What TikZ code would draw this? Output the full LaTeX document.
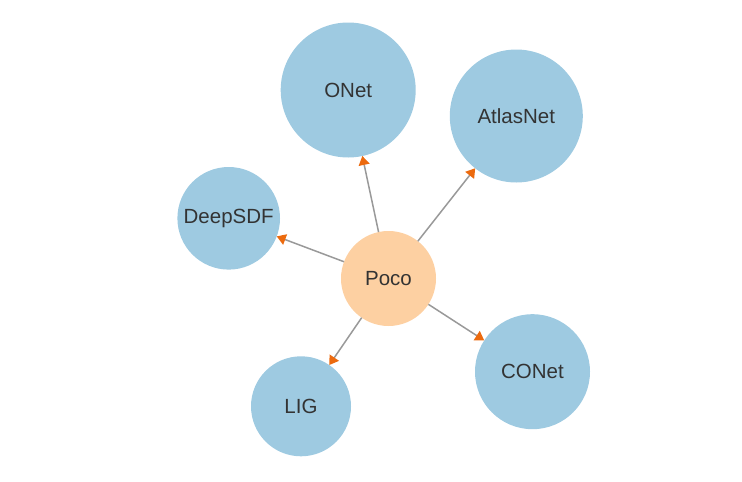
\documentclass[tikz,border=0pt]{standalone}
\usepackage{fontspec}
\setmainfont{Liberation Sans}
\usetikzlibrary{arrows.meta}
\definecolor{nodeblue}{HTML}{9ECAE1}
\definecolor{nodepeach}{HTML}{FDD0A2}
\definecolor{edgegray}{HTML}{999999}
\definecolor{tiporange}{HTML}{EC6A0E}
\definecolor{labelgray}{HTML}{333333}
\tikzset{
  blob/.style={circle, fill=nodeblue, draw=none, inner sep=0pt, outer sep=0pt,
    text=labelgray, font=\fontsize{20.5}{24}\selectfont},
  hub/.style={blob, fill=nodepeach},
  link/.style={draw=edgegray, line width=1.5pt,
    -{Triangle[length=9pt,width=11pt,color=tiporange]}}
}
\begin{document}
\begin{tikzpicture}[x=1pt,y=-1pt]
\useasboundingbox (0,0) rectangle (742,482);
\node[blob, minimum size=135pt] (onet) at (348.2,90) {ONet};
\node[blob, minimum size=133pt] (atlas) at (516.3,116) {AtlasNet};
\node[blob, minimum size=102.6pt] (deepsdf) at (228.7,218.3) {DeepSDF};
\node[blob, minimum size=115pt] (conet) at (532.5,371.7) {CONet};
\node[blob, minimum size=100pt] (lig) at (301,406.3) {LIG};
\node[hub, minimum size=95pt] (poco) at (388.5,278.5) {Poco};
\draw[link] (poco) -- (onet);
\draw[link] (poco) -- (atlas);
\draw[link] (poco) -- (deepsdf);
\draw[link] (poco) -- (conet);
\draw[link] (poco) -- (lig);
\end{tikzpicture}
\end{document}
